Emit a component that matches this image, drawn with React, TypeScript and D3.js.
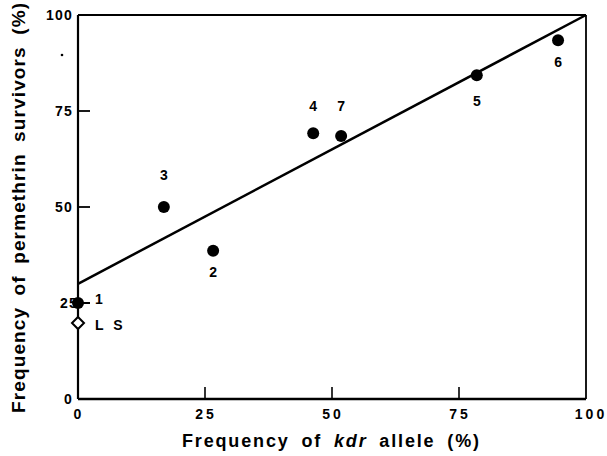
import React from "react";
import * as d3 from "d3";

const populations = ["1", "2", "3", "4", "5", "6", "7"];
const kdrFreq = [0, 26.6, 16.9, 46.3, 78.5, 94.5, 51.8];
const survivorFreq = [25, 38.6, 50, 69.2, 84.3, 93.4, 68.5];
const labelPos = ["right", "below", "above", "above", "below", "below", "above"];
const labelGap = [0, 26, 27, 22, 31, 27, 25];
const lsPoint = { label: "L S", kdr: 0, surv: 19.8 };
const fitIntercept = 30;
const fitSlope = 0.7;
const xTicks = [0, 25, 50, 75, 100];
const yTicks = [0, 25, 50, 75, 100];

const W = 607;
const H = 456;
const m = { left: 78, right: 21, top: 15, bottom: 57 };

export default function App() {
  const x = d3.scaleLinear().domain([0, 100]).range([m.left, W - m.right]);
  const y = d3.scaleLinear().domain([0, 100]).range([H - m.bottom, m.top]);
  const font = "'Liberation Sans', Arial, Helvetica, sans-serif";
  const line = d3.line<number>().x((d) => x(d)).y((d) => y(fitIntercept + fitSlope * d));

  return (
    <svg width={W} height={H} style={{ position: "absolute", left: 0, top: 0, background: "#fff" }}>
      <g fill="none" stroke="#000">
        <line x1={x(0)} x2={x(100)} y1={y(100)} y2={y(100)} strokeWidth={2.2} />
        <line x1={x(100)} x2={x(100)} y1={y(100)} y2={y(0)} strokeWidth={1.8} />
        <line x1={x(0)} x2={x(100)} y1={y(0)} y2={y(0)} strokeWidth={2.6} />
        <line x1={x(0)} x2={x(0)} y1={y(100)} y2={y(0)} strokeWidth={2.2} />
        {xTicks.slice(1, -1).map((t) => (
          <line key={"xt" + t} x1={x(t)} x2={x(t)} y1={y(0)} y2={y(0) - 12} strokeWidth={1.6} />
        ))}
        {yTicks.slice(1, -1).map((t) => (
          <line key={"yt" + t} x1={x(0)} x2={x(0) + 12} y1={y(t)} y2={y(t)} strokeWidth={1.8} />
        ))}
        <path d={line([0, 100]) || ""} strokeWidth={2.5} />
      </g>
      <g fontFamily={font} fontWeight="bold" fontSize={14} fill="#000">
        {xTicks.map((t) => (
          <text key={"xl" + t} x={x(t) + (t === 100 ? 5 : 1)} y={y(0) + 20} textAnchor="middle" letterSpacing={3}>
            {t}
          </text>
        ))}
        {yTicks.map((t) => (
          <text key={"yl" + t} x={x(0) - (t === 25 ? 0 : 5)} y={y(t) + 5} textAnchor="end" letterSpacing={1.2}>
            {t}
          </text>
        ))}
      </g>
      <g>
        {populations.map((p, i) => (
          <circle key={"c" + p} cx={x(kdrFreq[i])} cy={y(survivorFreq[i])} r={6} fill="#000" />
        ))}
        <path
          d={`M${x(lsPoint.kdr)},${y(lsPoint.surv) - 6}l6,6l-6,6l-6,-6z`}
          fill="#fff"
          stroke="#000"
          strokeWidth={2}
        />
      </g>
      <g fontFamily={font} fontWeight="bold" fontSize={14} fill="#000">
        {populations.map((p, i) => {
          const cx = x(kdrFreq[i]);
          const cy = y(survivorFreq[i]);
          const pos = labelPos[i];
          if (pos === "right") {
            return (
              <g key={"l" + p}>
                <line x1={cx} x2={cx + 12} y1={cy} y2={cy} stroke="#000" strokeWidth={1.8} />
                <text x={cx + 17} y={cy + 1}>{p}</text>
              </g>
            );
          }
          return (
            <text key={"l" + p} x={cx} y={pos === "above" ? cy - labelGap[i] : cy + labelGap[i]} textAnchor="middle">
              {p}
            </text>
          );
        })}
        <text x={x(lsPoint.kdr) + 17} y={y(lsPoint.surv) + 7} letterSpacing={3}>
          {lsPoint.label}
        </text>
      </g>
      <g fontFamily={font} fontWeight="bold" fill="#000">
        <text
          x={182}
          y={447}
          fontSize={18}
          textLength={297}
          lengthAdjust="spacing"
          wordSpacing={5}
        >
          Frequency of <tspan fontStyle="italic">kdr</tspan> allele (%)
        </text>
        <text
          transform={`translate(25,413) rotate(-90)`}
          fontSize={19}
          textLength={410}
          lengthAdjust="spacing"
          wordSpacing={5}
        >
          Frequency of permethrin survivors (%)
        </text>
      </g>
      <circle cx={62} cy={55} r={1.3} fill="#000" />
    </svg>
  );
}
